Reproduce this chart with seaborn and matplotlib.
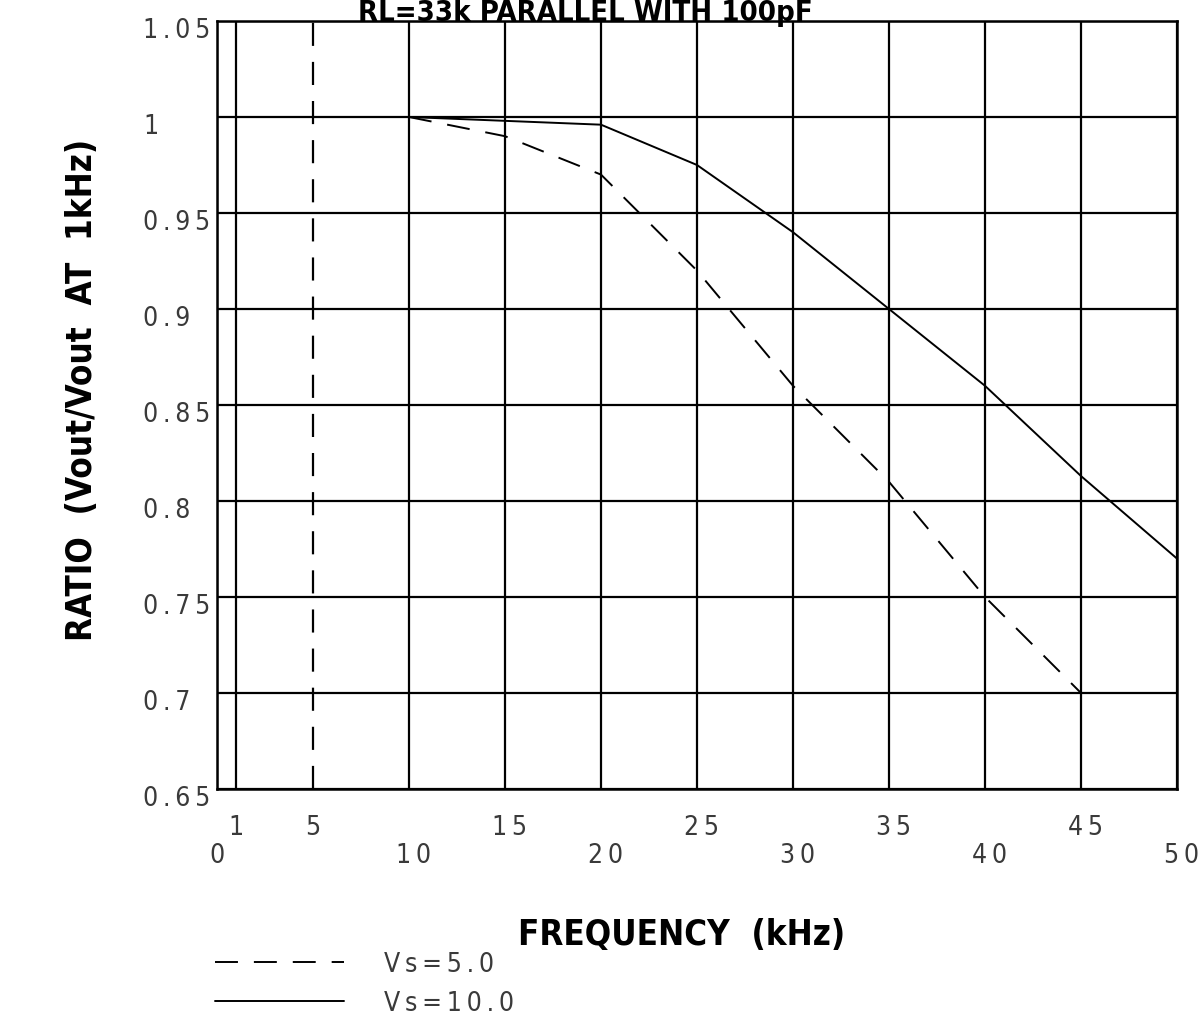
import os
import numpy as np
import pandas as pd
import matplotlib
matplotlib.use("Agg")
from matplotlib import pyplot as plt
from matplotlib import font_manager
from matplotlib.font_manager import FontProperties
from matplotlib.transforms import ScaledTranslation
import seaborn as sns

# values
freq_vs5 = [10, 15, 20, 25, 30, 35, 40, 45]
ratio_vs5 = [1.0, 0.99, 0.97, 0.92, 0.86, 0.81, 0.75, 0.70]
freq_vs10 = [10, 20, 25, 30, 35, 40, 45, 50]
ratio_vs10 = [1.0, 0.996, 0.975, 0.94, 0.90, 0.86, 0.813, 0.77]
series_names = ['Vs=5.0', 'Vs=10.0']

x_ticks = [0, 1, 5, 10, 15, 20, 25, 30, 35, 40, 45, 50]
x_tick_labels = ['0', '1', '5', '10', '15', '20', '25', '30', '35', '40', '45', '50']
x_upper_row = ['1', '5', '15', '25', '35', '45']
y_ticks = [0.65, 0.70, 0.75, 0.80, 0.85, 0.90, 0.95, 1.00, 1.05]
y_tick_labels = ['0.65', '0.7', '0.75', '0.8', '0.85', '0.9', '0.95', '1', '1.05']

title = 'RL=33k PARALLEL WITH 100pF'
x_title = 'FREQUENCY  (kHz)'
y_title = 'RATIO  (Vout/Vout  AT  1kHz)'


def find_font(files):
    # narrow faces are not always there, look them up by file name
    have = {os.path.basename(f.fname).lower(): f.fname for f in font_manager.fontManager.ttflist}
    for name in files:
        if name.lower() in have:
            return have[name.lower()]
    return None


def spaced(s):
    # the plotter font has wide letter spacing (thin space between glyphs)
    return '\u2009'.join(s)


def main():
    sns.set_theme(style='white')
    plt.rcParams['font.family'] = ['Liberation Sans', 'DejaVu Sans']

    bold_file = find_font(['LiberationSansNarrow-Bold.ttf', 'NotoSans-CondensedBold.ttf',
                           'DejaVuSansCondensed-Bold.ttf', 'RobotoCondensed-Bold.ttf'])
    thin_file = find_font(['NotoSans-CondensedLight.ttf', 'NotoSans-ExtraCondensedLight.ttf',
                           'DejaVuSansCondensed.ttf', 'LiberationSansNarrow-Regular.ttf',
                           'RobotoCondensed-Light.ttf', 'Roboto-Light.ttf', 'Lato-Light.ttf'])
    if bold_file:
        bold = FontProperties(fname=bold_file, size=25)
    else:
        bold = FontProperties(family=['Liberation Sans', 'DejaVu Sans'], weight='bold', size=25)
    if thin_file:
        thin = FontProperties(fname=thin_file, size=19)
    else:
        thin = FontProperties(family=['Roboto', 'DejaVu Sans'], weight='light', size=19)

    fig = plt.figure(figsize=(12.03, 10.2), dpi=100)
    ax = fig.add_axes([217 / 1203, 230 / 1020, 960 / 1203, 768 / 1020])

    df5 = pd.DataFrame({'freq': freq_vs5, 'ratio': ratio_vs5})
    df10 = pd.DataFrame({'freq': freq_vs10, 'ratio': ratio_vs10})
    sns.lineplot(data=df5, x='freq', y='ratio', color='black', lw=1.4,
                 linestyle=(0, (11.8, 8.2)), ax=ax, label=spaced(series_names[0]), zorder=3)
    sns.lineplot(data=df10, x='freq', y='ratio', color='black', lw=1.4,
                 linestyle='-', ax=ax, label=spaced(series_names[1]), zorder=3)

    ax.set_xlim(0, 50)
    ax.set_ylim(0.65, 1.05)

    # x labels in two staggered rows
    xl = []
    for lab in x_tick_labels:
        if lab in x_upper_row:
            xl.append(spaced(lab) + '\n ')
        else:
            xl.append(' \n' + spaced(lab))
    ax.set_xticks(x_ticks)
    ax.set_xticklabels(xl, fontproperties=thin, linespacing=1.1, va='top', color='#3a3a3a')
    ax.set_yticks(y_ticks)
    ax.set_yticklabels([spaced(t) for t in y_tick_labels], fontproperties=thin,
                       ha='left', color='#3a3a3a')
    ax.tick_params(axis='both', length=0)
    ax.tick_params(axis='x', pad=18)
    ax.tick_params(axis='y', pad=53)

    ax.grid(True, color='black', lw=1.6)
    for tick in ax.xaxis.get_major_ticks():
        if tick.get_loc() == 5:
            tick.gridline.set_linestyle((0, (10.4, 7.2)))

    for lbl in ax.get_yticklabels():
        lbl.set_transform(lbl.get_transform() + ScaledTranslation(0, -6 / 100, fig.dpi_scale_trans))
    for lbl, lab in zip(ax.get_xticklabels(), x_tick_labels):
        if len(lab) > 1:
            lbl.set_transform(lbl.get_transform() + ScaledTranslation(5 / 100, 0, fig.dpi_scale_trans))

    for sp in ax.spines.values():
        sp.set_color('black')
        sp.set_linewidth(1.8)

    ax.set_xlabel(x_title, fontproperties=bold, color='black')
    ax.set_ylabel(y_title, fontproperties=bold, color='black')
    ax.xaxis.label.set_va('center')
    ax.yaxis.label.set_va('center')
    ax.xaxis.set_label_coords((682 - 217) / 960, (790 - 935) / 768)
    ax.yaxis.set_label_coords((82 - 217) / 960, (790 - 390) / 768)

    title_font = bold.copy()
    title_font.set_size(21)
    fig.text(585 / 1203, 1 - 21 / 1020, title, ha='center', va='baseline',
             fontproperties=title_font, color='black')

    ax.legend(loc='upper left', bbox_to_anchor=(215 / 1203, 1 - 952 / 1020),
              bbox_transform=fig.transFigure, frameon=False, prop=thin,
              borderpad=0, borderaxespad=0, handlelength=4.9, handletextpad=1.5,
              labelspacing=0.5, labelcolor='#3a3a3a')

    fig.savefig('out.png', dpi=100)


if __name__ == '__main__':
    main()
